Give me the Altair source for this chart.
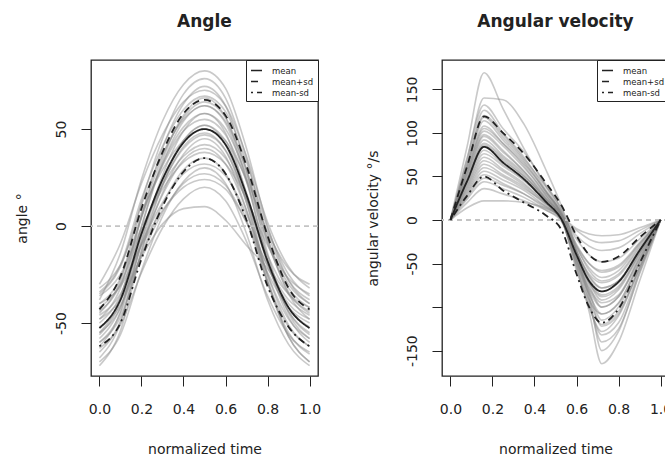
import altair as alt
import pandas as pd

# ---------------- data ----------------
T_ANGLE = [0.0, 0.1, 0.2, 0.3, 0.4, 0.5, 0.6, 0.7, 0.8, 0.9, 1.0]
T_VEL = [0.0, 0.08, 0.16, 0.25, 0.35, 0.45, 0.53, 0.6, 0.66, 0.72, 0.8, 0.9, 1.0]

ANGLE_CURVES = [
    [-38, -14, 24, 54, 73, 80, 71, 40, 0, -28, -40],
    [-45, -28, 12, 45, 68, 76, 66, 35, -6, -35, -48],
    [-30, -9, 22, 47, 64, 70, 62, 36, 2, -21, -32],
    [-55, -37, 5, 40, 63, 72, 62, 29, -14, -45, -58],
    [-62, -44, -1, 34, 57, 66, 56, 24, -18, -47, -60],
    [-35, -21, 11, 37, 55, 62, 54, 29, -4, -28, -38],
    [-48, -32, 5, 36, 56, 64, 56, 28, -8, -34, -45],
    [-68, -50, -8, 26, 49, 58, 48, 16, -27, -57, -70],
    [-40, -27, 5, 31, 49, 55, 47, 23, -9, -32, -42],
    [-58, -42, -6, 24, 44, 52, 44, 17, -19, -44, -55],
    [-32, -20, 7, 29, 44, 50, 44, 24, -3, -22, -30],
    [-50, -36, -4, 22, 40, 47, 39, 14, -19, -42, -52],
    [-65, -49, -13, 17, 37, 45, 36, 8, -29, -55, -66],
    [-42, -30, -2, 21, 36, 42, 35, 14, -15, -35, -44],
    [-55, -42, -10, 16, 34, 40, 32, 8, -25, -48, -58],
    [-36, -25, -1, 19, 33, 38, 32, 14, -10, -27, -35],
    [-60, -47, -15, 11, 29, 35, 27, 3, -29, -52, -62],
    [-46, -35, -9, 12, 27, 32, 26, 6, -21, -40, -48],
    [-70, -56, -23, 5, 23, 30, 22, -4, -38, -61, -72],
    [-52, -41, -15, 7, 22, 27, 21, 2, -24, -42, -50],
    [-40, -31, -10, 8, 20, 24, 19, 2, -20, -35, -42],
    [-63, -51, -24, -1, 14, 20, 13, -8, -36, -56, -65],
    [-44, -30, 4, 32, 51, 58, 50, 26, -7, -30, -40],
    [-72, -54, -13, 21, 44, 52, 42, 12, -29, -57, -70],
    [-56, -39, 0, 32, 54, 62, 53, 23, -16, -44, -56],
    [-48, -38, -16, 1, 9, 10, 3, -10, -22, -38, -46],
    [-34, -20, 14, 41, 60, 67, 59, 33, -1, -25, -36],
    [-60, -45, -9, 21, 41, 48, 39, 12, -25, -51, -62],
]
ANGLE_MEAN = [-52.6, -38, -4, 24, 43, 50, 42, 16, -18, -42, -52.6]
ANGLE_UPPER = [-43, -26, 9, 38, 58, 65, 57, 31, -5, -32, -43]
ANGLE_LOWER = [-62, -50, -17, 10, 28, 35, 27, 3, -31, -52, -62]

VEL_CURVES = [
    [0, 85, 169, 128, 82, 40, 8, -40, -80, -100, -88, -45, 0],
    [0, 70, 140, 138, 110, 60, 15, -35, -90, -120, -105, -55, 0],
    [0, 72, 132, 105, 78, 42, 10, -45, -95, -140, -125, -62, 0],
    [0, 66, 126, 100, 72, 36, 5, -52, -105, -165, -140, -70, 0],
    [0, 63, 120, 98, 70, 40, 12, -30, -58, -70, -62, -30, 0],
    [0, 60, 114, 92, 66, 34, 4, -55, -100, -128, -110, -55, 0],
    [0, 57, 108, 88, 62, 30, 0, -50, -85, -108, -95, -48, 0],
    [0, 54, 102, 85, 60, 32, 8, -35, -65, -78, -70, -35, 0],
    [0, 50, 96, 78, 56, 26, 2, -48, -88, -150, -128, -60, 0],
    [0, 48, 92, 74, 54, 28, 5, -40, -72, -92, -80, -40, 0],
    [0, 46, 88, 72, 52, 24, 0, -45, -78, -95, -86, -42, 0],
    [0, 44, 84, 68, 50, 26, 4, -36, -62, -72, -64, -32, 0],
    [0, 42, 80, 64, 46, 22, 0, -42, -72, -88, -78, -38, 0],
    [0, 40, 76, 62, 45, 24, 6, -28, -50, -60, -54, -27, 0],
    [0, 38, 72, 58, 42, 20, -2, -46, -82, -115, -100, -50, 0],
    [0, 36, 68, 56, 40, 20, 2, -32, -55, -66, -58, -28, 0],
    [0, 34, 64, 52, 38, 18, 0, -38, -68, -82, -72, -36, 0],
    [0, 32, 60, 50, 36, 20, 6, -22, -40, -48, -44, -22, 0],
    [0, 30, 56, 46, 34, 16, 0, -40, -75, -100, -88, -44, 0],
    [0, 28, 52, 42, 30, 14, 2, -30, -50, -58, -52, -26, 0],
    [0, 26, 48, 40, 30, 16, 4, -18, -30, -35, -32, -16, 0],
    [0, 24, 44, 36, 26, 12, -2, -36, -64, -78, -70, -34, 0],
    [0, 20, 36, 30, 22, 12, 2, -12, -22, -26, -24, -12, 0],
    [0, 14, 22, 22, 20, 14, 4, -10, -16, -18, -17, -9, 0],
    [0, 55, 105, 88, 64, 34, 6, -44, -84, -122, -108, -54, 0],
    [0, 62, 118, 95, 68, 34, 2, -58, -98, -132, -118, -58, 0],
    [0, 52, 98, 80, 56, 30, 6, -40, -70, -86, -76, -38, 0],
    [0, 45, 86, 70, 50, 25, 0, -52, -92, -108, -96, -48, 0],
]
VEL_MEAN = [0, 45, 84, 66, 47, 22, 0, -40, -70, -82, -71, -35, 0]
VEL_UPPER = [0, 62, 119, 100, 76, 44, 16, -18, -40, -48, -42, -20, 0]
VEL_LOWER = [0, 28, 50, 34, 20, 6, -12, -62, -100, -118, -102, -50, 0]

SERIES = ["mean", "mean+sd", "mean-sd"]
X_TICKS = [0.0, 0.2, 0.4, 0.6, 0.8, 1.0]
ANGLE_TICKS = [-50, 0, 50]
VEL_TICKS = [-150, -100, -50, 0, 50, 100, 150]

FONT = "DejaVu Sans"
INK = "#222222"


def curves_frame(t, curves):
    rows = []
    for i, c in enumerate(curves):
        for tt, v in zip(t, c):
            rows.append({"t": tt, "v": v, "id": i})
    return pd.DataFrame(rows)


def stats_frame(t, mean, up, lo):
    rows = []
    for name, arr in zip(SERIES, [mean, up, lo]):
        for tt, v in zip(t, arr):
            rows.append({"t": tt, "v": v, "series": name})
    return pd.DataFrame(rows)


def panel(title, t, curves, mean, up, lo, ydomain, yticks, ytitle, label_expr):
    x = alt.X(
        "t:Q",
        scale=alt.Scale(domain=[-0.04, 1.04], nice=False, zero=False),
        axis=alt.Axis(
            values=X_TICKS, format=".1f", title="normalized time",
            labelBaseline="alphabetic", labelPadding=27, labelAlign="center",
            labelFlush=False, labelOverlap=False,
            titleX=113.5, titleY=77, titleBaseline="alphabetic", titleAlign="center",
        ),
    )
    y = alt.Y(
        "v:Q",
        scale=alt.Scale(domain=ydomain, nice=False, zero=False),
        axis=alt.Axis(
            values=yticks, labelExpr=label_expr, title=ytitle,
            labelAngle=270, labelAlign="center", labelBaseline="alphabetic",
            labelPadding=16, labelFlush=False, labelOverlap=False,
            titleAngle=270, titleAlign="center", titleBaseline="alphabetic",
            titleX=-65, titleY=158,
        ),
    )
    gray = alt.Chart(curves_frame(t, curves)).mark_line(
        color="#888888", strokeWidth=1.6, opacity=0.45, interpolate="monotone"
    ).encode(x=x, y=y, detail="id:N")
    zero = alt.Chart(pd.DataFrame({"v": [0]})).mark_rule(
        color="#c4c4c4", strokeWidth=1.8, strokeDash=[5, 4]
    ).encode(y=y)
    stats = alt.Chart(stats_frame(t, mean, up, lo)).mark_line(
        color=INK, strokeWidth=1.8, interpolate="monotone"
    ).encode(
        x=x, y=y,
        strokeDash=alt.StrokeDash(
            "series:N",
            scale=alt.Scale(domain=SERIES, range=[[1, 0], [7, 5], [2, 4, 7, 4]]),
            legend=alt.Legend(
                title=None, orient="top-right", offset=0,
                strokeColor=INK, fillColor="white", padding=4, cornerRadius=0,
                labelFont=FONT, labelFontSize=8.5, labelColor=INK, labelOffset=9,
                symbolType="stroke", symbolSize=121, symbolStrokeWidth=1.5,
                symbolStrokeColor=INK, rowPadding=0,
            ),
        ),
    )
    return alt.layer(gray, zero, stats).properties(
        width=227, height=316,
        title=alt.TitleParams(
            title, font=FONT, fontSize=17, fontWeight="bold", color=INK,
            anchor="middle", baseline="alphabetic", offset=16, frame="group",
        ),
    )


left = panel("Angle", T_ANGLE, ANGLE_CURVES, ANGLE_MEAN, ANGLE_UPPER, ANGLE_LOWER,
             [-77.3, 85.6], ANGLE_TICKS, "angle °", "'' + datum.value")
right = panel("Angular velocity", T_VEL, VEL_CURVES, VEL_MEAN, VEL_UPPER, VEL_LOWER,
              [-179.1, 183.7], VEL_TICKS, "angular velocity °/s",
              "datum.value == -100 ? '' : '' + datum.value")

chart = alt.hconcat(left, right, spacing=124, bounds="flush").resolve_scale(
    strokeDash="independent"
).resolve_legend(strokeDash="independent").properties(
    autosize=alt.AutoSizeParams(type="none"),
    padding={"left": 91, "top": 60, "right": 574, "bottom": 399},
    background="white",
).configure_view(
    stroke=INK, strokeWidth=1.3
).configure_axis(
    domain=False, grid=False, ticks=True, tickColor=INK, tickWidth=1, tickSize=10,
    labelFont=FONT, labelFontSize=14, labelColor=INK,
    titleFont=FONT, titleFontSize=14, titleFontWeight="normal", titleColor=INK,
)

chart.save("out.html", embed_options={"renderer": "svg", "actions": False})
